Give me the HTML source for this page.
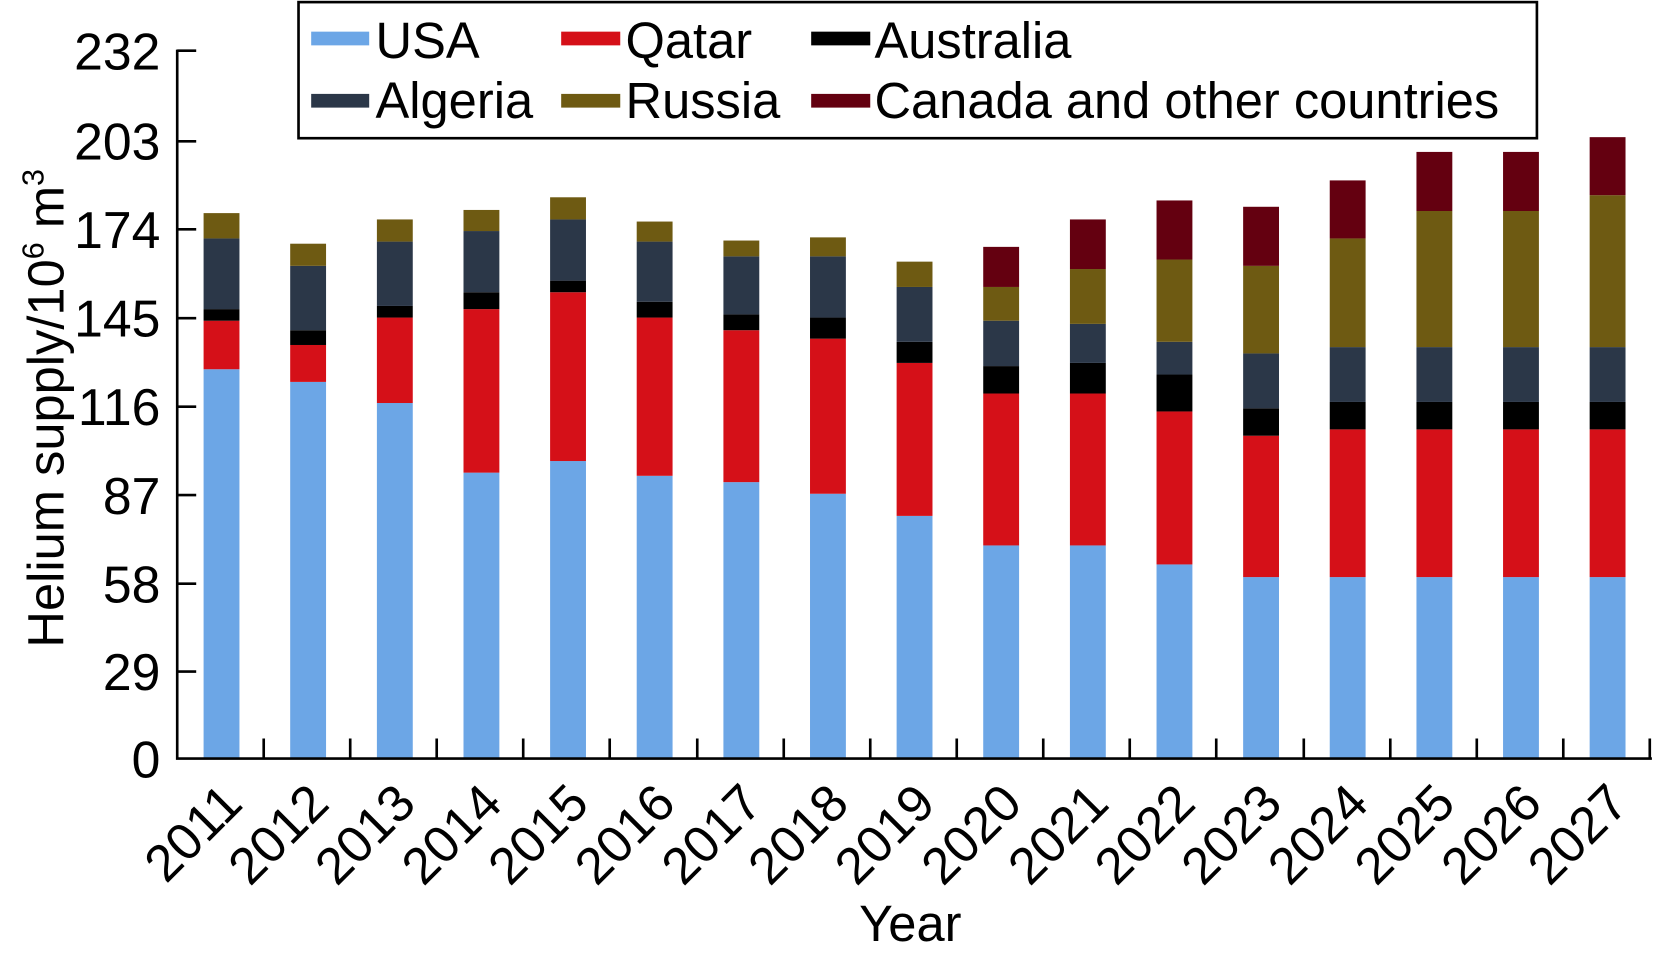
<!DOCTYPE html>
<html><head><meta charset="utf-8"><style>html,body{margin:0;padding:0;background:#fff}svg{display:block}</style></head>
<body>
<svg width="1654" height="959" viewBox="0 0 1568 909" preserveAspectRatio="none" xmlns="http://www.w3.org/2000/svg" font-family="Liberation Sans, Arial, sans-serif">
<g>
<!-- 2011 -->
<rect x="193" y="350" width="34" height="369" fill="#6ca6e6"/><rect x="193" y="304" width="34" height="46" fill="#d51018"/><rect x="193" y="293" width="34" height="11" fill="#000"/><rect x="193" y="226" width="34" height="67" fill="#2b3748"/><rect x="193" y="202" width="34" height="24" fill="#6e5a12"/>
<!-- 2012 -->
<rect x="275.1" y="362" width="34" height="357" fill="#6ca6e6"/><rect x="275.1" y="327" width="34" height="35" fill="#d51018"/><rect x="275.1" y="313" width="34" height="14" fill="#000"/><rect x="275.1" y="252" width="34" height="61" fill="#2b3748"/><rect x="275.1" y="231" width="34" height="21" fill="#6e5a12"/>
<!-- 2013 -->
<rect x="357.3" y="382" width="34" height="337" fill="#6ca6e6"/><rect x="357.3" y="301" width="34" height="81" fill="#d51018"/><rect x="357.3" y="290" width="34" height="11" fill="#000"/><rect x="357.3" y="229" width="34" height="61" fill="#2b3748"/><rect x="357.3" y="208" width="34" height="21" fill="#6e5a12"/>
<!-- 2014 -->
<rect x="439.4" y="448" width="34" height="271" fill="#6ca6e6"/><rect x="439.4" y="293" width="34" height="155" fill="#d51018"/><rect x="439.4" y="277" width="34" height="16" fill="#000"/><rect x="439.4" y="219" width="34" height="58" fill="#2b3748"/><rect x="439.4" y="199" width="34" height="20" fill="#6e5a12"/>
<!-- 2015 -->
<rect x="521.5" y="437" width="34" height="282" fill="#6ca6e6"/><rect x="521.5" y="277" width="34" height="160" fill="#d51018"/><rect x="521.5" y="266" width="34" height="11" fill="#000"/><rect x="521.5" y="208" width="34" height="58" fill="#2b3748"/><rect x="521.5" y="187" width="34" height="21" fill="#6e5a12"/>
<!-- 2016 -->
<rect x="603.6" y="451" width="34" height="268" fill="#6ca6e6"/><rect x="603.6" y="301" width="34" height="150" fill="#d51018"/><rect x="603.6" y="286" width="34" height="15" fill="#000"/><rect x="603.6" y="229" width="34" height="57" fill="#2b3748"/><rect x="603.6" y="210" width="34" height="19" fill="#6e5a12"/>
<!-- 2017 -->
<rect x="685.8" y="457" width="34" height="262" fill="#6ca6e6"/><rect x="685.8" y="313" width="34" height="144" fill="#d51018"/><rect x="685.8" y="298" width="34" height="15" fill="#000"/><rect x="685.8" y="243" width="34" height="55" fill="#2b3748"/><rect x="685.8" y="228" width="34" height="15" fill="#6e5a12"/>
<!-- 2018 -->
<rect x="767.9" y="468" width="34" height="251" fill="#6ca6e6"/><rect x="767.9" y="321" width="34" height="147" fill="#d51018"/><rect x="767.9" y="301" width="34" height="20" fill="#000"/><rect x="767.9" y="243" width="34" height="58" fill="#2b3748"/><rect x="767.9" y="225" width="34" height="18" fill="#6e5a12"/>
<!-- 2019 -->
<rect x="850" y="489" width="34" height="230" fill="#6ca6e6"/><rect x="850" y="344" width="34" height="145" fill="#d51018"/><rect x="850" y="324" width="34" height="20" fill="#000"/><rect x="850" y="272" width="34" height="52" fill="#2b3748"/><rect x="850" y="248" width="34" height="24" fill="#6e5a12"/>
<!-- 2020 -->
<rect x="932.1" y="517" width="34" height="202" fill="#6ca6e6"/><rect x="932.1" y="373" width="34" height="144" fill="#d51018"/><rect x="932.1" y="347" width="34" height="26" fill="#000"/><rect x="932.1" y="304" width="34" height="43" fill="#2b3748"/><rect x="932.1" y="272" width="34" height="32" fill="#6e5a12"/><rect x="932.1" y="234" width="34" height="38" fill="#640010"/>
<!-- 2021 -->
<rect x="1014.3" y="517" width="34" height="202" fill="#6ca6e6"/><rect x="1014.3" y="373" width="34" height="144" fill="#d51018"/><rect x="1014.3" y="344" width="34" height="29" fill="#000"/><rect x="1014.3" y="307" width="34" height="37" fill="#2b3748"/><rect x="1014.3" y="255" width="34" height="52" fill="#6e5a12"/><rect x="1014.3" y="208" width="34" height="47" fill="#640010"/>
<!-- 2022 -->
<rect x="1096.4" y="535" width="34" height="184" fill="#6ca6e6"/><rect x="1096.4" y="390" width="34" height="145" fill="#d51018"/><rect x="1096.4" y="355" width="34" height="35" fill="#000"/><rect x="1096.4" y="324" width="34" height="31" fill="#2b3748"/><rect x="1096.4" y="246" width="34" height="78" fill="#6e5a12"/><rect x="1096.4" y="190" width="34" height="56" fill="#640010"/>
<!-- 2023 -->
<rect x="1178.5" y="547" width="34" height="172" fill="#6ca6e6"/><rect x="1178.5" y="413" width="34" height="134" fill="#d51018"/><rect x="1178.5" y="387" width="34" height="26" fill="#000"/><rect x="1178.5" y="335" width="34" height="52" fill="#2b3748"/><rect x="1178.5" y="252" width="34" height="83" fill="#6e5a12"/><rect x="1178.5" y="196" width="34" height="56" fill="#640010"/>
<!-- 2024 -->
<rect x="1260.6" y="547" width="34" height="172" fill="#6ca6e6"/><rect x="1260.6" y="407" width="34" height="140" fill="#d51018"/><rect x="1260.6" y="381" width="34" height="26" fill="#000"/><rect x="1260.6" y="329" width="34" height="52" fill="#2b3748"/><rect x="1260.6" y="226" width="34" height="103" fill="#6e5a12"/><rect x="1260.6" y="171" width="34" height="55" fill="#640010"/>
<!-- 2025 -->
<rect x="1342.8" y="547" width="34" height="172" fill="#6ca6e6"/><rect x="1342.8" y="407" width="34" height="140" fill="#d51018"/><rect x="1342.8" y="381" width="34" height="26" fill="#000"/><rect x="1342.8" y="329" width="34" height="52" fill="#2b3748"/><rect x="1342.8" y="200" width="34" height="129" fill="#6e5a12"/><rect x="1342.8" y="144" width="34" height="56" fill="#640010"/>
<!-- 2026 -->
<rect x="1424.9" y="547" width="34" height="172" fill="#6ca6e6"/><rect x="1424.9" y="407" width="34" height="140" fill="#d51018"/><rect x="1424.9" y="381" width="34" height="26" fill="#000"/><rect x="1424.9" y="329" width="34" height="52" fill="#2b3748"/><rect x="1424.9" y="200" width="34" height="129" fill="#6e5a12"/><rect x="1424.9" y="144" width="34" height="56" fill="#640010"/>
<!-- 2027 -->
<rect x="1507" y="547" width="34" height="172" fill="#6ca6e6"/><rect x="1507" y="407" width="34" height="140" fill="#d51018"/><rect x="1507" y="381" width="34" height="26" fill="#000"/><rect x="1507" y="329" width="34" height="52" fill="#2b3748"/><rect x="1507" y="185" width="34" height="144" fill="#6e5a12"/><rect x="1507" y="130" width="34" height="55" fill="#640010"/>
</g>
<g stroke="#000" stroke-width="2.5" fill="none">
<path d="M168,47 V719 H1566"/>
<path d="M168,48 h18 M168,133.9 h18 M168,217.4 h18 M168,301.6 h18 M168,385.5 h18 M168,469.3 h18 M168,553.3 h18 M168,636.5 h18"/>
<path d="M250,719 v-19 M332,719 v-19 M414,719 v-19 M496,719 v-19 M578,719 v-19 M661,719 v-19 M743,719 v-19 M825,719 v-19 M907,719 v-19 M989,719 v-19 M1071,719 v-19 M1153,719 v-19 M1236,719 v-19 M1318,719 v-19 M1400,719 v-19 M1482,719 v-19 M1564,719 v-19"/>
</g>
<g font-size="49" text-anchor="end" fill="#000">
<text x="152" y="66">232</text><text x="152" y="151">203</text><text x="152" y="235">174</text>
<text x="152" y="319">145</text><text x="152" y="403">116</text><text x="152" y="487">87</text>
<text x="152" y="571">58</text><text x="152" y="654">29</text><text x="152" y="737">0</text>
</g>
<g font-size="49" text-anchor="end" fill="#000">
<text transform="translate(232,764) rotate(-45)">2011</text>
<text transform="translate(314.1,764) rotate(-45)">2012</text>
<text transform="translate(396.3,764) rotate(-45)">2013</text>
<text transform="translate(478.4,764) rotate(-45)">2014</text>
<text transform="translate(560.5,764) rotate(-45)">2015</text>
<text transform="translate(642.6,764) rotate(-45)">2016</text>
<text transform="translate(724.8,764) rotate(-45)">2017</text>
<text transform="translate(806.9,764) rotate(-45)">2018</text>
<text transform="translate(889,764) rotate(-45)">2019</text>
<text transform="translate(971.1,764) rotate(-45)">2020</text>
<text transform="translate(1053.3,764) rotate(-45)">2021</text>
<text transform="translate(1135.4,764) rotate(-45)">2022</text>
<text transform="translate(1217.5,764) rotate(-45)">2023</text>
<text transform="translate(1299.6,764) rotate(-45)">2024</text>
<text transform="translate(1381.8,764) rotate(-45)">2025</text>
<text transform="translate(1463.9,764) rotate(-45)">2026</text>
<text transform="translate(1546,764) rotate(-45)">2027</text>
</g>
<text x="863" y="892" font-size="48" text-anchor="middle">Year</text>
<text transform="translate(60,387) rotate(-90)" font-size="48" text-anchor="middle">Helium supply/10<tspan font-size="29" dy="-19">6</tspan><tspan dy="19"> m</tspan><tspan font-size="29" dy="-19">3</tspan></text>
<rect x="283" y="2" width="1174" height="129" fill="#fff" stroke="#000" stroke-width="2.5"/>
<g font-size="48">
<rect x="295" y="30" width="55" height="13" fill="#6ca6e6"/><text x="356" y="55">USA</text>
<rect x="532" y="30" width="56" height="13" fill="#d51018"/><text x="593" y="55">Qatar</text>
<rect x="769" y="30" width="56" height="13" fill="#000"/><text x="829" y="55">Australia</text>
<rect x="295" y="89" width="55" height="13" fill="#2b3748"/><text x="356" y="112">Algeria</text>
<rect x="532" y="89" width="56" height="13" fill="#6e5a12"/><text x="593" y="112">Russia</text>
<rect x="769" y="89" width="56" height="13" fill="#640010"/><text x="829" y="112">Canada and other countries</text>
</g>
</svg>
</body></html>
